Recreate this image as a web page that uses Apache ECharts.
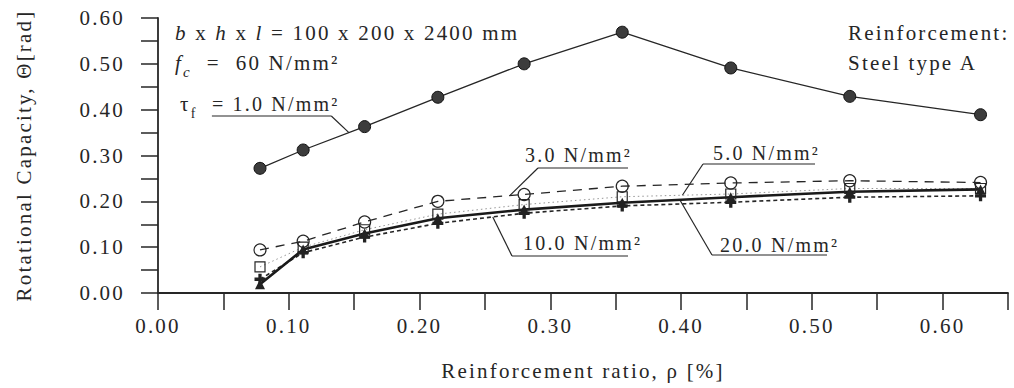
<!DOCTYPE html>
<html>
<head>
<meta charset="utf-8">
<script src="https://cdn.jsdelivr.net/npm/echarts@6/dist/echarts.min.js"></script>
<style>
  html, body { margin: 0; padding: 0; background: #fff; }
  #chart { width: 1014px; height: 388px; }
  /* typewriter-like spacing of the lettering */
  #chart text { letter-spacing: 2.2px; white-space: pre; }
</style>
</head>
<body>
<div id="chart"></div>
<script>
// Reinforcement ratio rho [%] of the tested beams
const ratio = [0.078, 0.111, 0.158, 0.214, 0.280, 0.355, 0.438, 0.529, 0.629];

// Rotational capacity theta [rad] for each bond strength tau_f
const theta1  = [0.272, 0.312, 0.363, 0.427, 0.500, 0.569, 0.491, 0.429, 0.389];
const theta3  = [0.094, 0.113, 0.155, 0.200, 0.215, 0.233, 0.240, 0.245, 0.241];
const theta5  = [0.057, 0.100, 0.138, 0.172, 0.193, 0.210, 0.216, 0.228, 0.228];
const theta10 = [0.030, 0.088, 0.122, 0.152, 0.174, 0.190, 0.198, 0.209, 0.212];
const theta20 = [0.019, 0.095, 0.130, 0.163, 0.182, 0.197, 0.209, 0.221, 0.226];

// Axis tick labels (every 0.10; minor ticks at 0.05 carry no label)
const xTickLabels = ['0.00', '0.10', '0.20', '0.30', '0.40', '0.50', '0.60'];
const yTickLabels = ['0.00', '0.10', '0.20', '0.30', '0.40', '0.50', '0.60'];

const INK = '#262626';
const FONT = 'Liberation Serif, Times New Roman, serif';
const SP = 2.2; // letter spacing, must follow the CSS above
const FS = 21;  // body lettering size

const chart = echarts.init(document.getElementById('chart'), null, { renderer: 'svg' });

const pairs = vals => ratio.map((r, i) => [r, vals[i]]);
const tenths = (labels) => v => {
  const k = v * 10;
  return Math.abs(k - Math.round(k)) < 1e-6 ? (labels[Math.round(k)] || '') : '';
};

const plus = 'path://M3.5,0H6.5V3.5H10V6.5H6.5V10H3.5V6.5H0V3.5H3.5Z';

const axisCommon = {
  type: 'value',
  interval: 0.05,
  axisLine: { show: true, lineStyle: { color: INK, width: 1.8 } },
  axisTick: { show: true, inside: false, length: 17, lineStyle: { color: INK, width: 1.5 } },
  splitLine: { show: false },
  axisLabel: { color: INK, fontFamily: FONT, fontSize: FS },
  nameTextStyle: { color: INK, fontFamily: FONT, fontSize: FS }
};

chart.setOption({
  animation: false,
  backgroundColor: '#fff',
  grid: { left: 158, right: 6, top: 18, bottom: 95, containLabel: false, outerBoundsMode: 'none' },
  xAxis: Object.assign({}, axisCommon, {
    min: 0, max: 0.65,
    axisLabel: Object.assign({}, axisCommon.axisLabel, { margin: 22, formatter: tenths(xTickLabels) }),
    name: 'Reinforcement ratio, ρ [%]',
    nameLocation: 'middle',
    nameGap: 67
  }),
  yAxis: Object.assign({}, axisCommon, {
    min: 0, max: 0.6,
    axisLabel: Object.assign({}, axisCommon.axisLabel, { margin: 33, formatter: tenths(yTickLabels) }),
    name: 'Rotational Capacity, Θ[rad]',
    nameLocation: 'middle',
    nameRotate: 90,
    nameGap: 124
  }),
  series: [
    {
      name: '1.0', type: 'line', data: pairs(theta1),
      symbol: 'circle', symbolSize: 12,
      lineStyle: { color: INK, width: 1.3 },
      itemStyle: { color: '#3c3c3c', borderColor: '#111', borderWidth: 1 }
    },
    {
      name: '3.0', type: 'line', data: pairs(theta3),
      symbol: 'circle', symbolSize: 12,
      lineStyle: { color: INK, width: 1.3, type: [9, 7] },
      itemStyle: { color: 'rgba(255,255,255,0)', borderColor: INK, borderWidth: 1.2 }
    },
    {
      name: '5.0', type: 'line', data: pairs(theta5),
      symbol: 'rect', symbolSize: 10,
      lineStyle: { color: '#8a8a8a', width: 0.9, type: [1.5, 3] },
      itemStyle: { color: 'rgba(255,255,255,0)', borderColor: INK, borderWidth: 1.2 }
    },
    {
      name: '10.0', type: 'line', data: pairs(theta10),
      symbol: plus, symbolSize: 11,
      lineStyle: { color: INK, width: 1.6, type: [4, 3] },
      itemStyle: { color: '#222', borderWidth: 0 }
    },
    {
      name: '20.0', type: 'line', data: pairs(theta20),
      symbol: 'triangle', symbolSize: 10,
      lineStyle: { color: '#1a1a1a', width: 2.6 },
      itemStyle: { color: '#222', borderWidth: 0 }
    }
  ]
});

// ---- annotation lettering -------------------------------------------------
const meas = document.createElement('canvas').getContext('2d');
function advance(s, size, style) {
  meas.font = `${style} ${size}px ${FONT}`;
  return meas.measureText(s).width + s.length * SP;
}

// Lay out a row of differently styled text runs from a left edge.
function runs(x, y, parts) {
  const out = [];
  let cx = x;
  for (const p of parts) {
    const size = p.size || FS;
    const style = p.italic ? 'italic' : 'normal';
    const lead = p.t.length - p.t.replace(/^\s+/, '').length;
    const body = p.t.trim();
    if (body) {
      out.push({
        type: 'text', silent: true,
        style: {
          text: body, x: cx + advance(p.t.slice(0, lead), size, style), y: y + (p.dy || 0),
          font: `${style} ${size}px ${FONT}`, fill: INK,
          align: 'left', textAlign: 'left', verticalAlign: 'middle', textVerticalAlign: 'middle'
        }
      });
    }
    p.left = cx + advance(p.t.slice(0, lead), size, style);
    cx += advance(p.t, size, style);
    p.right = cx - SP;
  }
  return out;
}

function onCurve(vals, x) {
  for (let i = 0; i < ratio.length - 1; i++) {
    if (x >= ratio[i] && x <= ratio[i + 1]) {
      const t = (x - ratio[i]) / (ratio[i + 1] - ratio[i]);
      return vals[i] + t * (vals[i + 1] - vals[i]);
    }
  }
  return vals[vals.length - 1];
}

function seg(x1, y1, x2, y2) {
  return { type: 'line', silent: true, shape: { x1, y1, x2, y2 }, style: { stroke: INK, lineWidth: 1.2 } };
}

const els = [];

// Specimen and material data, top left
els.push(...runs(175, 33, [
  { t: 'b', italic: true }, { t: ' x ' }, { t: 'h', italic: true }, { t: ' x ' },
  { t: 'l', italic: true }, { t: ' = 100 x 200 x 2400 mm' }
]));
els.push(...runs(175, 63, [
  { t: 'f', italic: true }, { t: 'c', italic: true, size: 15, dy: 9 }, { t: '  =  60 N/mm²' }
]));

// Reinforcement note, top right
els.push(...runs(848, 33, [{ t: 'Reinforcement:' }]));
els.push(...runs(848, 63, [{ t: 'Steel type A' }]));

// tau_f = 1.0 label with leader to its curve
{
  const parts = [{ t: 'τ' }, { t: 'f', size: 14, dy: 9 }, { t: '  = 1.0 N/mm²', size: 20 }];
  els.push(...runs(180, 104, parts));
  const u0 = parts[2].left, u1 = parts[2].right - 6, uy = 116;
  const tgt = chart.convertToPixel({ gridIndex: 0 }, [0.146, onCurve(theta1, 0.146)]);
  els.push(seg(u0, uy, u1, uy), seg(u1, uy, tgt[0], tgt[1]));
}

// Labels of the lower curves: text, underline and leader from the underline's left end
const notes = [
  { text: '3.0 N/mm²',  left: 525, y: 155, line: [538, 628, 168], vals: theta3,  at: 0.269 },
  { text: '10.0 N/mm²', left: 523, y: 243, line: [512, 628, 256], vals: theta10, at: 0.256 },
  { text: '5.0 N/mm²',  left: 713, y: 153, line: [703, 815, 164], vals: theta5,  at: 0.401 },
  { text: '20.0 N/mm²', left: 720, y: 245, line: [712, 827, 255], vals: theta20, at: 0.399 }
];
for (const n of notes) {
  els.push(...runs(n.left, n.y, [{ t: n.text, size: 20 }]));
  const [a, b, uy] = n.line;
  const tgt = chart.convertToPixel({ gridIndex: 0 }, [n.at, onCurve(n.vals, n.at)]);
  els.push(seg(a, uy, b, uy), seg(a, uy, tgt[0], tgt[1]));
}

chart.setOption({ graphic: { elements: els } });
</script>
</body>
</html>
